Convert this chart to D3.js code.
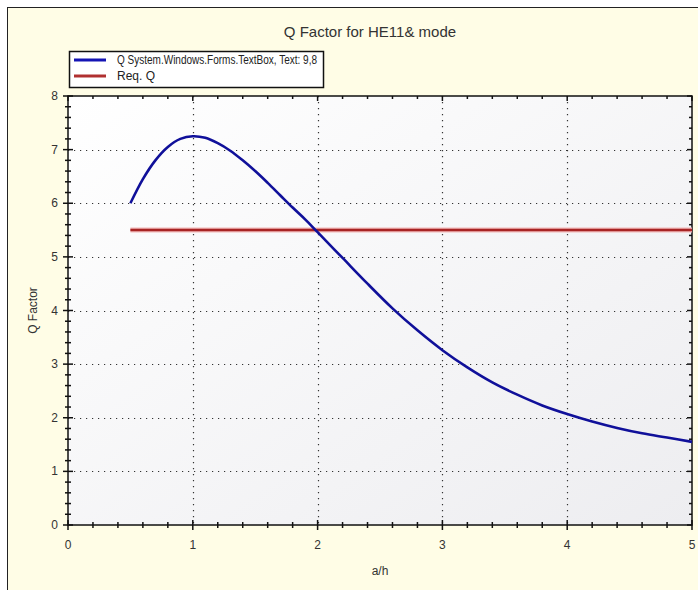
<!DOCTYPE html>
<html><head><meta charset="utf-8">
<script src="https://cdn.jsdelivr.net/npm/d3@7"></script>
<style>body{margin:0;background:#fff}svg{display:block}text{font-family:Arial,"Liberation Sans",sans-serif}</style>
</head><body><svg id="c" width="698" height="590"></svg>
<script>
const title = "Q Factor for HE11& mode";
const xLabel = "a/h", yLabel = "Q Factor";
const seriesNames = ["Q System.Windows.Forms.TextBox, Text: 9,8", "Req. Q"];
const ratio = [0.5,0.6,0.7,0.8,0.9,1.0,1.1,1.2,1.3,1.4,1.5,1.6,1.7,1.8,1.9,2.0,2.2,2.4,2.6,2.8,3.0,3.2,3.4,3.6,3.8,4.0,4.2,4.4,4.6,4.8,5.0];
const qValues = [6.00,6.45,6.80,7.05,7.20,7.25,7.22,7.12,6.98,6.80,6.60,6.38,6.15,5.92,5.70,5.46,4.98,4.50,4.04,3.63,3.26,2.94,2.66,2.43,2.23,2.07,1.93,1.81,1.71,1.63,1.55];
const reqX = [0.5, 5.0];
const reqQ = [5.5, 5.5];
const xTicks = [0,1,2,3,4,5];
const yTicks = [0,1,2,3,4,5,6,7,8];

const svg = d3.select("#c");
const L=68,R=692,T=96,B=525;
const x = d3.scaleLinear().domain([0,5]).range([L,R]);
const y = d3.scaleLinear().domain([0,8]).range([B,T]);

svg.append("rect").attr("x",7.5).attr("y",7.5).attr("width",700).attr("height",600)
  .attr("fill","#fffde6").attr("stroke","#222");

const defs = svg.append("defs");
const g = defs.append("linearGradient").attr("id","pg").attr("x1","0").attr("y1","0").attr("x2","1").attr("y2","1");
g.append("stop").attr("offset","0").attr("stop-color","#ffffff");
g.append("stop").attr("offset","1").attr("stop-color","#ededf0");
svg.append("rect").attr("x",L).attr("y",T).attr("width",R-L).attr("height",B-T).attr("fill","url(#pg)");

// grid
const grid = svg.append("g").attr("stroke","#333").attr("stroke-width",1.2).attr("stroke-dasharray","1.2,4.8");
grid.selectAll(".gx").data(xTicks.slice(1,-1)).join("line")
  .attr("x1",d=>Math.round(x(d))+0.5).attr("x2",d=>Math.round(x(d))+0.5).attr("y1",T).attr("y2",B);
grid.selectAll(".gy").data(yTicks.slice(1,-1)).join("line")
  .attr("y1",d=>Math.round(y(d))+0.5).attr("y2",d=>Math.round(y(d))+0.5).attr("x1",L).attr("x2",R);

// frame
svg.append("rect").attr("x",L).attr("y",T).attr("width",R-L).attr("height",B-T)
  .attr("fill","none").attr("stroke","#111").attr("stroke-width",1.5);

const minorX = d3.range(0,5.001,0.2), minorY = d3.range(0,8.001,0.2);
const tk = svg.append("g").attr("stroke","#111").attr("stroke-width",1.5);
const isMaj = v => Math.abs(v-Math.round(v))<1e-6;
tk.selectAll(".bx").data(minorX).join("line")
  .attr("x1",d=>x(d)).attr("x2",d=>x(d))
  .attr("y1",d=>B-(isMaj(d)?5:3)).attr("y2",d=>B+(isMaj(d)?5:3));
tk.selectAll(".tx").data(minorX).join("line")
  .attr("x1",d=>x(d)).attr("x2",d=>x(d))
  .attr("y1",T).attr("y2",d=>T+(isMaj(d)?5:3));
tk.selectAll(".ly").data(minorY).join("line")
  .attr("y1",d=>y(d)).attr("y2",d=>y(d))
  .attr("x1",d=>L-(isMaj(d)?5:3)).attr("x2",d=>L+(isMaj(d)?5:3));
tk.selectAll(".ry").data(minorY).join("line")
  .attr("y1",d=>y(d)).attr("y2",d=>y(d))
  .attr("x1",d=>R-(isMaj(d)?5:3)).attr("x2",R);

svg.append("g").selectAll("text").data(xTicks).join("text")
  .attr("x",d=>x(d)).attr("y",B+24).attr("text-anchor","middle")
  .attr("font-size",12).attr("fill","#333").text(d=>d);
svg.append("g").selectAll("text").data(yTicks).join("text")
  .attr("x",L-10).attr("y",d=>y(d)+4).attr("text-anchor","end")
  .attr("font-size",12).attr("fill","#333").text(d=>d);

svg.append("text").attr("x",(L+R)/2).attr("y",575).attr("text-anchor","middle")
  .attr("font-size",12).attr("fill","#333").text(xLabel);
svg.append("text").attr("transform",`translate(37,${(T+B)/2}) rotate(-90)`).attr("text-anchor","middle")
  .attr("font-size",12).attr("fill","#333").text(yLabel);
svg.append("text").attr("x",370).attr("y",37).attr("text-anchor","middle")
  .attr("font-size",15).attr("fill","#333").text(title);

const line = d3.line().x(d=>x(d[0])).y(d=>y(d[1])).curve(d3.curveCatmullRom);
const reqData = reqX.map((v,i)=>[v,reqQ[i]]);
svg.append("path").datum(reqData).attr("d",line).attr("fill","none")
  .attr("stroke","#f2b8b8").attr("stroke-width",5);
svg.append("path").datum(reqData).attr("d",line).attr("fill","none")
  .attr("stroke","#a82424").attr("stroke-width",2.5);
svg.append("path").datum(ratio.map((v,i)=>[v,qValues[i]])).attr("d",line).attr("fill","none")
  .attr("stroke","#10109a").attr("stroke-width",2.6);

const lg = svg.append("g");
lg.append("rect").attr("x",69.5).attr("y",51.5).attr("width",254).attr("height",36)
  .attr("fill","#fff").attr("stroke","#111").attr("stroke-width",1.5);
const lc = ["#1414b4","#b03030"];
const lw = [200, 38];
seriesNames.forEach((n,i)=>{
  const yy = 60 + i*16;
  lg.append("line").attr("x1",74).attr("x2",106).attr("y1",yy).attr("y2",yy).attr("stroke",lc[i]).attr("stroke-width",3);
  lg.append("text").attr("x",117).attr("y",yy+4).attr("font-size",12).attr("fill","#222")
    .attr("textLength",lw[i]).attr("lengthAdjust","spacingAndGlyphs").text(n);
});
</script></body></html>
